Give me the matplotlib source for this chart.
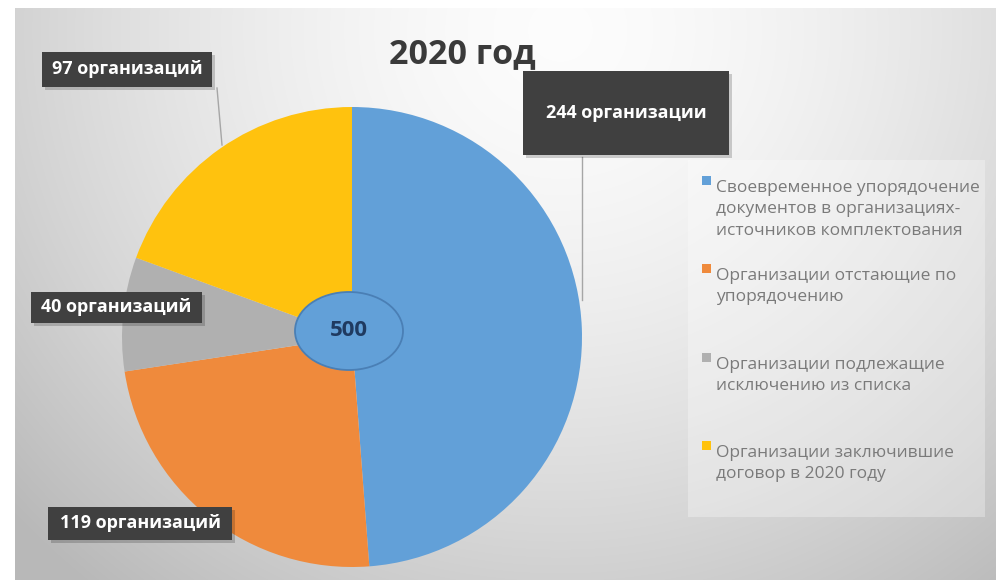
import numpy as np
import matplotlib.pyplot as plt
from matplotlib.patches import Rectangle, Ellipse

plt.rcParams['font.family'] = ['Open Sans', 'DejaVu Sans']

# data
title = '2020 год'
categories = ['Своевременное упорядочение\nдокументов в организациях-\nисточников комплектования',
              'Организации отстающие по\nупорядочению',
              'Организации подлежащие\nисключению из списка',
              'Организации заключившие\nдоговор в 2020 году']
values = [244, 119, 40, 97]
value_labels = ['244 организации', '119 организаций', '40 организаций', '97 организаций']
total_label = '500'
colors = ['#62a0d8', '#ef8a3c', '#b0b0b0', '#ffc20e']

W, H = 996, 580
fig = plt.figure(figsize=(W / 100, H / 100), dpi=100)
ax = fig.add_axes([0, 0, 1, 1])

# gray gradient background with white border
yy, xx = np.mgrid[0:H, 0:W]
r = np.sqrt(((xx - 560) / 620.) ** 2 + ((yy - 30) / 600.) ** 2)
v = 0.99 - 0.2 * np.clip(r, 0, 1.2) ** 1.6
img = np.dstack([v, v, v])
img[:8, :] = 1
img[:, :15] = 1
ax.imshow(img, extent=(0, W, 0, H), origin='upper', zorder=0)

# pie (pixel coordinates, y from bottom)
wedges, _ = ax.pie(values, colors=colors, startangle=90, counterclock=False,
                   radius=230, center=(352, H - 337),
                   wedgeprops=dict(linewidth=0, zorder=2))
ax.set_xlim(0, W)
ax.set_ylim(0, H)
ax.set_aspect('equal')
ax.axis('off')

# centre ellipse with total
ax.add_patch(Ellipse((349, H - 331), 108, 78, facecolor='#62a0d8',
                     edgecolor='#4a7fb5', lw=1.3, zorder=4))
ax.text(349, H - 330, total_label, ha='center', va='center', fontsize=16,
        fontweight='bold', color='#1f3a60', zorder=5)

# title
ax.text(462, H - 54, title, ha='center', va='center', fontsize=24.5,
        fontweight='bold', color='#3a3a3a', zorder=5)

# leader lines
ax.plot([217, 222], [H - 88, H - 145], color='#a6a6a6', lw=1, zorder=3)
ax.plot([582, 582], [H - 157, H - 300], color='#a6a6a6', lw=1, zorder=3)

# value label boxes (x0, y0, x1, y1 in image pixels)
boxes = [(523, 71, 729, 155), (48, 507, 232, 540), (31, 292, 202, 323), (42, 52, 212, 87)]
for (x0, y0, x1, y1), lab in zip(boxes, value_labels):
    ax.add_patch(Rectangle((x0 + 3, H - y1 - 3), x1 - x0, y1 - y0,
                           facecolor='#000000', alpha=0.18, lw=0, zorder=5))
    ax.add_patch(Rectangle((x0, H - y1), x1 - x0, y1 - y0,
                           facecolor='#404040', lw=0, zorder=6))
    ax.text((x0 + x1) / 2, H - (y0 + y1) / 2, lab, ha='center', va='center',
            fontsize=13, fontweight='bold', color='white', zorder=7)

# legend
ax.add_patch(Rectangle((688, H - 517), 297, 357, facecolor='white', alpha=0.3,
                       lw=0, zorder=1))
slot_y = [180, 268, 357, 445]
for yi, lab, c in zip(slot_y, categories, colors):
    ax.add_patch(Rectangle((702, H - yi - 5), 9, 9, facecolor=c, lw=0, zorder=3))
    ax.text(716, H - yi, lab, ha='left', va='top', fontsize=12.5, color='#7a7a7a',
            linespacing=1.45, zorder=3)

fig.savefig('out.png', dpi=100)
